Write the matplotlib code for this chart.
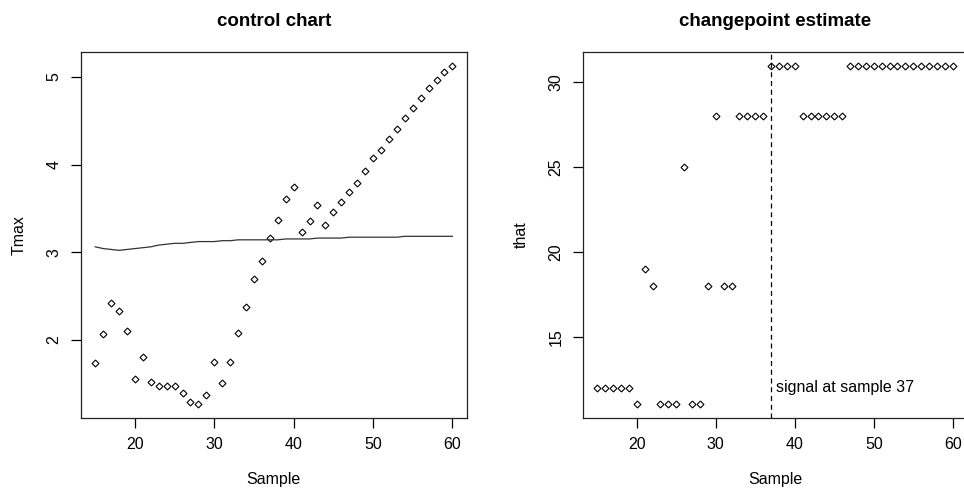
import numpy as np
import matplotlib
matplotlib.use("Agg")
import matplotlib.pyplot as plt

plt.rcParams['font.family'] = ['Liberation Sans', 'DejaVu Sans']

# samples 15..60
sample = list(range(15, 61))

# control chart statistic
tmax = [1.73, 2.06, 2.42, 2.33, 2.10, 1.55, 1.80, 1.52, 1.47, 1.47,
        1.47, 1.39, 1.29, 1.26, 1.37, 1.74, 1.51, 1.74, 2.08, 2.37,
        2.69, 2.90, 3.16, 3.37, 3.61, 3.74, 3.23, 3.36, 3.54, 3.31,
        3.46, 3.57, 3.69, 3.79, 3.93, 4.07, 4.16, 4.29, 4.40, 4.53,
        4.64, 4.76, 4.87, 4.96, 5.06, 5.13]

# control limit
limit = [3.06, 3.04, 3.03, 3.02, 3.03, 3.04, 3.05, 3.06, 3.08, 3.09,
         3.10, 3.10, 3.11, 3.12, 3.12, 3.12, 3.13, 3.13, 3.14, 3.14,
         3.14, 3.14, 3.14, 3.14, 3.15, 3.15, 3.15, 3.15, 3.16, 3.16,
         3.16, 3.16, 3.17, 3.17, 3.17, 3.17, 3.17, 3.17, 3.17, 3.18,
         3.18, 3.18, 3.18, 3.18, 3.18, 3.18]

# changepoint estimate
that = [12, 12, 12, 12, 12, 11, 19, 18, 11, 11,
        11, 25, 11, 11, 18, 28, 18, 18, 28, 28,
        28, 28, 31, 31, 31, 31, 28, 28, 28, 28,
        28, 28, 31, 31, 31, 31, 31, 31, 31, 31,
        31, 31, 31, 31, 31, 31]

signal = 37

fig = plt.figure(figsize=(9.64, 4.98), dpi=100)
ax1 = fig.add_axes([0.084, 0.1606, 0.4001, 0.735])
ax2 = fig.add_axes([0.6048, 0.1606, 0.3983, 0.735])

mk = dict(marker='D', markersize=3.5, markerfacecolor='white',
          markeredgecolor='black', markeredgewidth=0.8, linestyle='none')


def r_style(ax, xdata, ydata, yticks):
    lo, hi = min(xdata), max(xdata)
    pad = (hi - lo) * 0.04
    ax.set_xlim(lo - pad, hi + pad)
    lo, hi = min(ydata), max(ydata)
    pad = (hi - lo) * 0.04
    ax.set_ylim(lo - pad, hi + pad)
    ax.set_xticks([20, 30, 40, 50, 60])
    ax.set_yticks(yticks)
    ax.tick_params(direction='out', length=7, width=0.9, labelsize=11.5, pad=7)
    for lab in ax.get_yticklabels():
        lab.set_rotation(90)
        lab.set_va('center')
    for sp in ax.spines.values():
        sp.set_linewidth(0.9)
        sp.set_color('#222222')


ax1.plot(sample, tmax, **mk)
ax1.plot(sample, limit, color='#333333', linewidth=0.9)
r_style(ax1, sample, tmax, [2, 3, 4, 5])
ax1.set_title('control chart', fontsize=13.5, fontweight='bold', pad=19)
ax1.set_xlabel('Sample', fontsize=11.5, labelpad=14)
ax1.set_ylabel('Tmax', fontsize=11.5, labelpad=14)

ax2.plot(sample, that, **mk)
ax2.axvline(signal, color='black', linestyle=(0, (4, 3)), linewidth=0.9)
r_style(ax2, sample, that, [15, 20, 25, 30])
ax2.text(signal + 0.6, 12, 'signal at sample %d' % signal,
         fontsize=11.5, ha='left', va='center')
ax2.set_title('changepoint estimate', fontsize=13.5, fontweight='bold', pad=19)
ax2.set_xlabel('Sample', fontsize=11.5, labelpad=14)
ax2.set_ylabel('that', fontsize=11.5, labelpad=14)

fig.savefig('out.png', dpi=100)
